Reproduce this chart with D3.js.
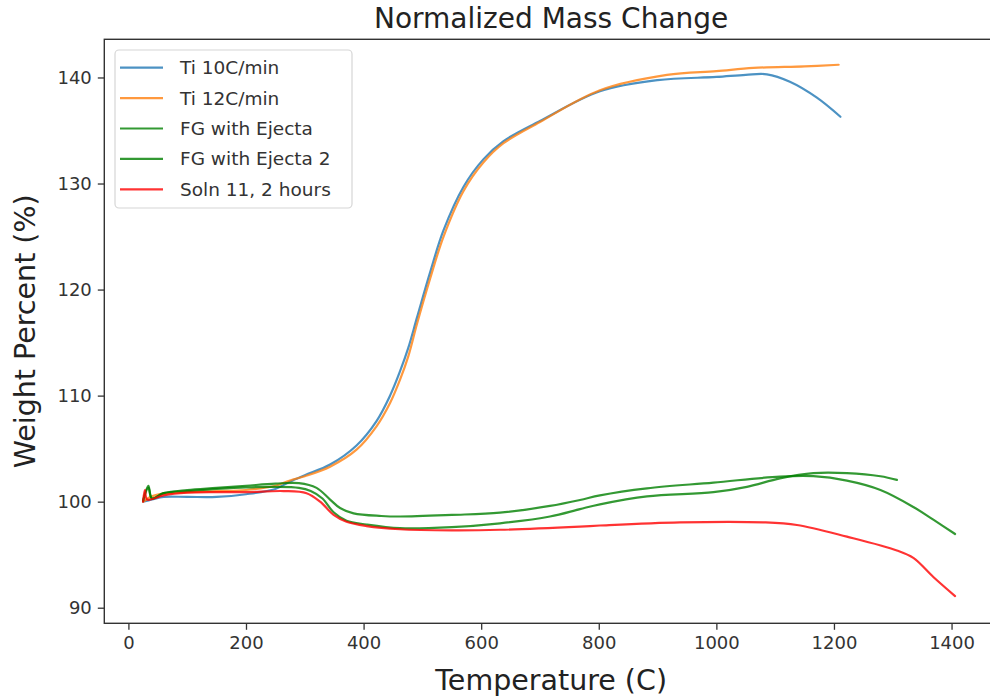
<!DOCTYPE html>
<html>
<head>
<meta charset="utf-8">
<script src="https://cdn.jsdelivr.net/npm/d3@7"></script>
<style>
  body { margin: 0; background: #fff; }
  svg { display: block; font-family: "DejaVu Sans", sans-serif; }
</style>
</head>
<body>
<div id="chart"></div>
<script>
// data (temperature in C, weight in %)
const ti10Temp   = [25, 40, 60, 100, 150, 200, 250, 275, 300, 343, 388, 422, 445, 462, 476, 491, 513, 536, 570, 604, 638, 700, 802, 900, 1000, 1050, 1086, 1125, 1171, 1211];
const ti10Weight = [100.0, 100.2, 100.45, 100.45, 100.45, 100.7, 101.2, 101.9, 102.5, 103.5, 105.3, 107.6, 110.0, 112.3, 114.5, 117.4, 121.6, 125.6, 129.7, 132.3, 134.0, 135.9, 138.7, 139.75, 140.05, 140.25, 140.3, 139.6, 138.1, 136.3];

const ti12Temp   = [25, 40, 60, 100, 150, 200, 250, 275, 300, 343, 388, 422, 445, 462, 476, 491, 513, 536, 570, 604, 638, 700, 802, 916, 1000, 1063, 1150, 1208];
const ti12Weight = [100.0, 100.5, 100.75, 100.9, 101.0, 101.1, 101.5, 102.0, 102.4, 103.3, 104.9, 107.1, 109.3, 111.5, 113.7, 116.8, 121.0, 125.0, 129.3, 132.0, 133.8, 135.8, 138.8, 140.25, 140.6, 140.9, 141.05, 141.2];

const fgTemp   = [25, 34, 40, 60, 100, 150, 200, 250, 290, 320, 343, 360, 383, 430, 462, 550, 632, 717, 768, 802, 882, 995, 1108, 1165, 1222, 1279, 1335, 1369, 1406];
const fgWeight = [100.1, 101.5, 100.3, 100.8, 101.1, 101.3, 101.5, 101.7, 101.75, 101.3, 100.2, 99.4, 98.9, 98.65, 98.6, 98.75, 98.96, 99.6, 100.16, 100.6, 101.26, 101.8, 102.36, 102.4, 101.98, 101.1, 99.5, 98.3, 96.95];

const fg2Temp   = [25, 34, 40, 60, 100, 150, 200, 250, 290, 310, 330, 349, 371, 405, 462, 550, 632, 717, 768, 802, 882, 995, 1052, 1108, 1165, 1222, 1279, 1307];
const fg2Weight = [100.1, 101.3, 100.3, 100.8, 101.0, 101.2, 101.35, 101.4, 101.3, 101.0, 100.3, 99.0, 98.2, 97.85, 97.5, 97.6, 97.96, 98.6, 99.3, 99.75, 100.5, 100.9, 101.4, 102.2, 102.7, 102.7, 102.4, 102.05];

const solnTemp   = [25, 28, 32, 60, 100, 150, 200, 264, 303, 326, 349, 371, 405, 462, 550, 632, 768, 802, 938, 1080, 1137, 1222, 1307, 1335, 1369, 1406];
const solnWeight = [100.0, 101.1, 100.2, 100.6, 100.85, 100.9, 100.9, 101.0, 100.8, 100.0, 98.75, 98.1, 97.7, 97.4, 97.3, 97.35, 97.65, 97.75, 98.05, 98.05, 97.8, 96.7, 95.4, 94.7, 92.9, 91.1];

const seriesNames  = ["Ti 10C/min", "Ti 12C/min", "FG with Ejecta", "FG with Ejecta 2", "Soln 11, 2 hours"];
const seriesColors = ["#1f77b4", "#ff7f0e", "green", "green", "red"];

const xTicks = [0, 200, 400, 600, 800, 1000, 1200, 1400];
const yTicks = [90, 100, 110, 120, 130, 140];

const series = [
    [ti10Temp, ti10Weight],
    [ti12Temp, ti12Weight],
    [fgTemp, fgWeight],
    [fg2Temp, fg2Weight],
    [solnTemp, solnWeight]
].map((s, i) => ({
    name: seriesNames[i],
    color: seriesColors[i],
    points: s[0].map((t, j) => ({t: t, w: s[1][j]}))
}));

const width = 990, height = 698;
// plot box (right side runs past the window like in the reference)
const plot = {left: 104.3, top: 39.3, right: 998, bottom: 623.3};

const svg = d3.select("#chart").append("svg")
    .attr("width", width)
    .attr("height", height);

const x = d3.scaleLinear().domain([-41, 1479]).range([plot.left, plot.right]);
const y = d3.scaleLinear().domain([88.53, 143.6]).range([plot.bottom, plot.top]);

svg.append("clipPath").attr("id", "clip")
    .append("rect")
    .attr("x", plot.left).attr("y", plot.top)
    .attr("width", plot.right - plot.left)
    .attr("height", plot.bottom - plot.top);

// lines
const line = d3.line()
    .x(d => x(d.t))
    .y(d => y(d.w))
    .curve(d3.curveCatmullRom.alpha(0.5));

svg.append("g")
    .attr("clip-path", "url(#clip)")
    .selectAll("path")
    .data(series)
    .enter()
    .append("path")
    .attr("d", d => line(d.points))
    .attr("fill", "none")
    .attr("stroke", d => d.color)
    .attr("stroke-opacity", 0.8)
    .attr("stroke-width", 2.2)
    .attr("stroke-linejoin", "round")
    .attr("stroke-linecap", "round");

// axes
const xAxis = svg.append("g")
    .attr("transform", "translate(0," + plot.bottom + ")")
    .call(d3.axisBottom(x).tickValues(xTicks).tickSize(6.5).tickPadding(6).tickFormat(d3.format("d")));

const yAxis = svg.append("g")
    .attr("transform", "translate(" + plot.left + ",0)")
    .call(d3.axisLeft(y).tickValues(yTicks).tickSize(6.5).tickPadding(6).tickFormat(d3.format("d")));

[xAxis, yAxis].forEach(a => {
    a.select(".domain").remove();
    a.selectAll(".tick line").attr("stroke", "#333").attr("stroke-width", 1.3);
    a.selectAll(".tick text")
        .attr("fill", "#333")
        .style("font-size", "18px")
        .style("font-family", "DejaVu Sans");
});

// frame
svg.append("rect")
    .attr("x", plot.left).attr("y", plot.top)
    .attr("width", plot.right - plot.left)
    .attr("height", plot.bottom - plot.top)
    .attr("fill", "none")
    .attr("stroke", "#333")
    .attr("stroke-width", 1.4);

// title and labels
svg.append("text")
    .attr("x", (plot.left + plot.right) / 2)
    .attr("y", 28)
    .attr("text-anchor", "middle")
    .attr("fill", "#222")
    .style("font-size", "28px")
    .text("Normalized Mass Change");

svg.append("text")
    .attr("x", (plot.left + plot.right) / 2)
    .attr("y", 690)
    .attr("text-anchor", "middle")
    .attr("fill", "#222")
    .style("font-size", "28.5px")
    .text("Temperature (C)");

svg.append("text")
    .attr("transform", "translate(35," + (plot.top + plot.bottom) / 2 + ") rotate(-90)")
    .attr("text-anchor", "middle")
    .attr("fill", "#222")
    .style("font-size", "28.5px")
    .text("Weight Percent (%)");

// legend
const legend = svg.append("g");
legend.append("rect")
    .attr("x", 115).attr("y", 50)
    .attr("width", 237).attr("height", 158)
    .attr("rx", 4)
    .attr("fill", "white")
    .attr("fill-opacity", 0.8)
    .attr("stroke", "#d6d6d6")
    .attr("stroke-width", 1.2);

const rows = legend.selectAll("g.row")
    .data(series)
    .enter()
    .append("g")
    .attr("class", "row")
    .attr("transform", (d, i) => "translate(0," + (67.7 + i * 30.4) + ")");

rows.append("line")
    .attr("x1", 120).attr("x2", 163)
    .attr("stroke", d => d.color)
    .attr("stroke-opacity", 0.8)
    .attr("stroke-width", 2.2);

rows.append("text")
    .attr("x", 180)
    .attr("dy", "0.35em")
    .attr("fill", "#333")
    .style("font-size", "18.5px")
    .text(d => d.name);
</script>
</body>
</html>
